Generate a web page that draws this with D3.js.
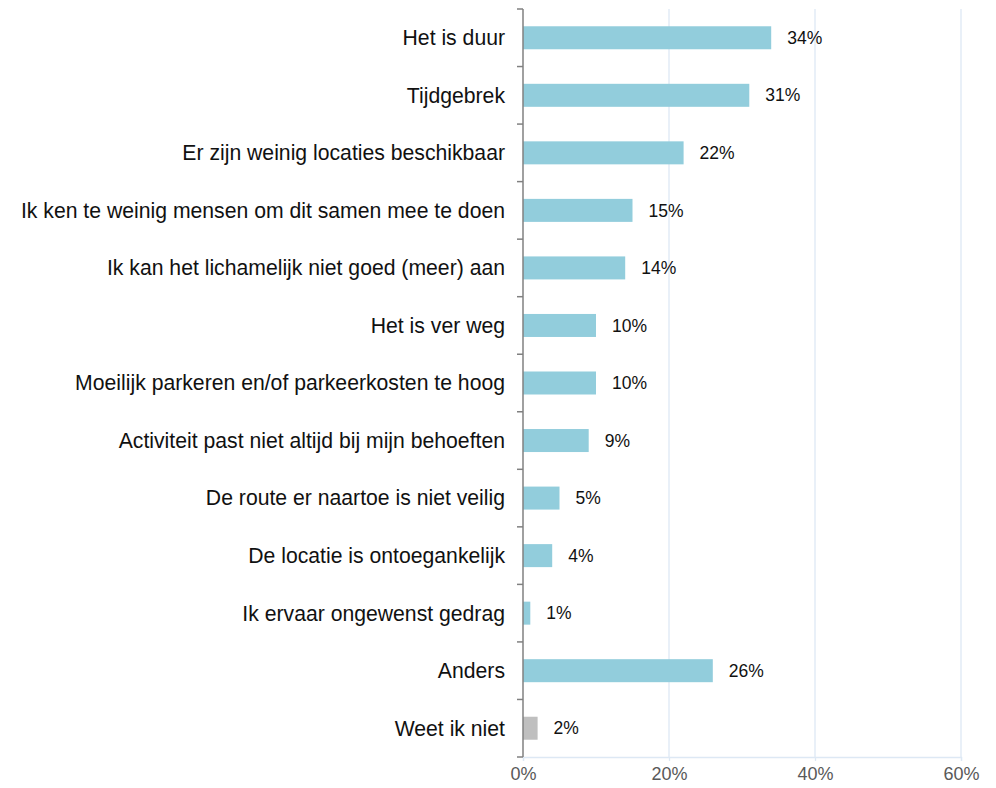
<!DOCTYPE html>
<head>
  <meta charset="utf-8">
  <style>
  body { margin: 0; background: #fff; }
  text { font-family: 'Liberation Sans', Arial, sans-serif; }
  .cat text { font-size: 21.2px; fill: #111; }
  .val { font-size: 17.5px; fill: #111; }
  .xaxis text { font-size: 18px; fill: #595959; }
  </style>
</head>
<body>
  <svg id="chart"></svg>
  <script src="https://d3js.org/d3.v7.min.js"></script>
  <script>
  var width = 996,
      height = 788;

  // categories, top to bottom
  var categories = [
    'Het is duur',
    'Tijdgebrek',
    'Er zijn weinig locaties beschikbaar',
    'Ik ken te weinig mensen om dit samen mee te doen',
    'Ik kan het lichamelijk niet goed (meer) aan',
    'Het is ver weg',
    'Moeilijk parkeren en/of parkeerkosten te hoog',
    'Activiteit past niet altijd bij mijn behoeften',
    'De route er naartoe is niet veilig',
    'De locatie is ontoegankelijk',
    'Ik ervaar ongewenst gedrag',
    'Anders',
    'Weet ik niet'
  ];
  var values = [34, 31, 22, 15, 14, 10, 10, 9, 5, 4, 1, 26, 2];
  var xTicks = [0, 20, 40, 60];

  // plot box (note: "top" is reserved on window)
  var plotLeft = 523, plotRight = 961, plotTop = 9, plotBottom = 757;

  var svg = d3.select('#chart')
    .attr('width', width)
    .attr('height', height);

  var x = d3.scaleLinear().domain([0, 60]).range([plotLeft, plotRight]);
  var band = d3.scaleBand().domain(categories).range([plotTop, plotBottom]);

  function mid(c) { return band(c) + band.bandwidth() / 2; }

  // gridlines
  svg.append('g').selectAll('line')
    .data(xTicks.slice(1))
    .enter().append('line')
      .attr('x1', function(d) { return x(d); })
      .attr('x2', function(d) { return x(d); })
      .attr('y1', plotTop)
      .attr('y2', plotBottom)
      .attr('stroke', '#dde8f4')
      .attr('stroke-width', 1.3);

  // bottom axis
  var xAxis = svg.append('g')
    .attr('class', 'xaxis')
    .attr('transform', 'translate(0,' + plotBottom + ')')
    .call(d3.axisBottom(x).tickValues(xTicks).tickSize(4).tickPadding(6)
      .tickFormat(function(d) { return d + '%'; }));
  xAxis.select('.domain').attr('stroke', '#dde8f4').attr('stroke-width', 1.3);
  xAxis.selectAll('.tick line').attr('stroke', '#dde8f4').attr('stroke-width', 1.3);
  xAxis.attr('font-family', null).attr('font-size', null);

  // bars
  svg.append('g').selectAll('rect')
    .data(values)
    .enter().append('rect')
      .attr('x', x(0))
      .attr('y', function(d, i) { return mid(categories[i]) - 11.5; })
      .attr('width', function(d) { return x(d) - x(0); })
      .attr('height', 23)
      .attr('fill', function(d, i) { return categories[i] === 'Weet ik niet' ? '#bfbfbf' : '#92cddc'; });

  // value labels
  svg.append('g').selectAll('text')
    .data(values)
    .enter().append('text')
      .attr('class', 'val')
      .attr('x', function(d) { return x(d) + 16; })
      .attr('y', function(d, i) { return mid(categories[i]); })
      .attr('dy', '0.35em')
      .text(function(d) { return d + '%'; });

  // left axis with ticks at band boundaries
  var yAxis = svg.append('g').attr('class', 'cat');
  yAxis.append('line')
    .attr('x1', plotLeft).attr('x2', plotLeft)
    .attr('y1', plotTop).attr('y2', plotBottom)
    .attr('stroke', '#808080').attr('stroke-width', 1.5);
  var bounds = categories.map(function(c) { return band(c); }).concat([plotBottom]);
  yAxis.selectAll('line.tk')
    .data(bounds)
    .enter().append('line')
      .attr('class', 'tk')
      .attr('x1', plotLeft - 6).attr('x2', plotLeft)
      .attr('y1', function(d) { return d; })
      .attr('y2', function(d) { return d; })
      .attr('stroke', '#808080').attr('stroke-width', 1.5);
  yAxis.selectAll('text')
    .data(categories)
    .enter().append('text')
      .attr('x', 505)
      .attr('y', function(d) { return mid(d); })
      .attr('dy', '0.35em')
      .attr('text-anchor', 'end')
      .text(function(d) { return d; });
  </script>
</body>
